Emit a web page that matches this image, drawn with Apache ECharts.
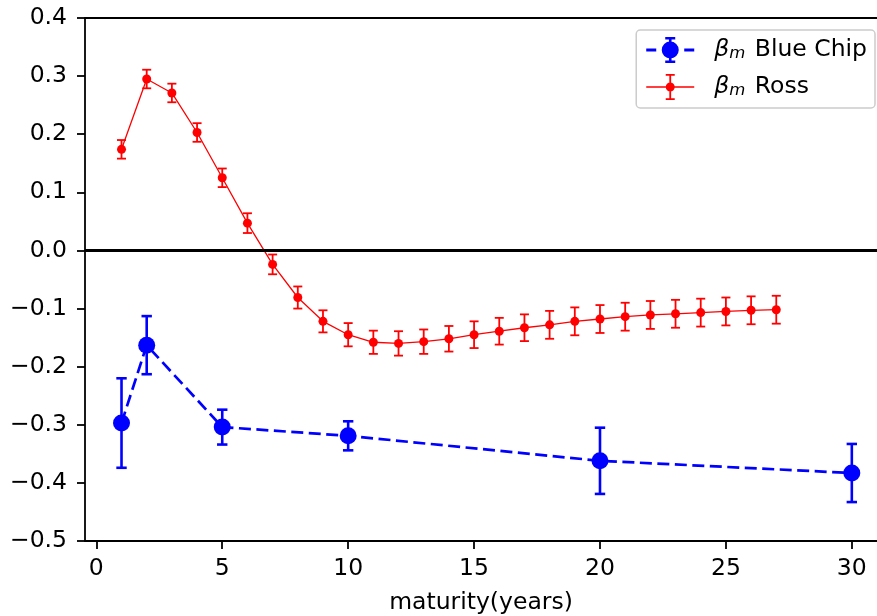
<!DOCTYPE html>
<html>
<head>
<meta charset="utf-8">
<script src="https://cdn.jsdelivr.net/npm/echarts@6/dist/echarts.min.js"></script>
<style>
  html, body { margin: 0; padding: 0; background: #fff; }
  #chart { width: 877px; height: 616px; }
</style>
</head>
<body>
<div id="chart"></div>
<script>
// Market beta by maturity: Blue Chip vs Ross estimates, with standard-error bars
const maturityBlue = [1, 2, 5, 10, 20, 30];
const betaBlue = [-0.297, -0.163, -0.304, -0.319, -0.362, -0.383];
const errBlue = [0.077, 0.050, 0.030, 0.025, 0.057, 0.050];

const maturityRoss = [1, 2, 3, 4, 5, 6, 7, 8, 9, 10, 11, 12, 13, 14, 15, 16, 17, 18, 19, 20, 21, 22, 23, 24, 25, 26, 27];
const betaRoss = [0.174, 0.295, 0.271, 0.203, 0.125, 0.047, -0.024, -0.081, -0.122, -0.145,
  -0.158, -0.160, -0.157, -0.152, -0.145, -0.139, -0.133, -0.128, -0.122, -0.118,
  -0.114, -0.111, -0.109, -0.107, -0.105, -0.103, -0.102];
const errRoss = [0.016, 0.016, 0.016, 0.016, 0.016, 0.017, 0.017, 0.019, 0.019, 0.020,
  0.020, 0.021, 0.021, 0.022, 0.023, 0.023, 0.023, 0.024, 0.024, 0.024,
  0.024, 0.024, 0.024, 0.024, 0.024, 0.024, 0.024];

const xTicks = [0, 5, 10, 15, 20, 25, 30];
const xLabel = 'maturity(years)';
const nameBlue = 'Blue Chip';
const nameRoss = 'Ross';

const FONT = 'DejaVu Sans';
const FS = 23.5;
const BLUE = '#0000ff';
const RED = '#ff0000';

function points(xs, ys) {
  return xs.map((x, i) => [x, ys[i]]);
}
function bars(xs, ys, es) {
  return xs.map((x, i) => [x, ys[i] - es[i], ys[i] + es[i]]);
}

// vertical error bar with caps, positioned through the axis scales
function errorBarRenderer(capHalf, lineWidth, color) {
  return function (params, api) {
    const x = api.value(0);
    const lo = api.coord([x, api.value(1)]);
    const hi = api.coord([x, api.value(2)]);
    const style = { stroke: color, lineWidth: lineWidth, fill: null };
    return {
      type: 'group',
      children: [
        { type: 'line', shape: { x1: lo[0], y1: lo[1], x2: hi[0], y2: hi[1] }, style: style },
        { type: 'line', shape: { x1: lo[0] - capHalf, y1: lo[1], x2: lo[0] + capHalf, y2: lo[1] }, style: style },
        { type: 'line', shape: { x1: hi[0] - capHalf, y1: hi[1], x2: hi[0] + capHalf, y2: hi[1] }, style: style }
      ]
    };
  };
}

const fmtY = v => {
  const r = Math.round(v * 10) / 10;
  if (Math.abs(r) < 1e-9) return '0.0';
  return (r < 0 ? '\u2212' : '') + Math.abs(r).toFixed(1);
};

// legend glyphs: dashed line + big marker + error bar, and solid line + small marker + error bar
const iconBlue = 'path://M0,11.6h10v2.8h-10z M38,11.6h10v2.8h-10z M15.5,13a8.5,8.5 0 1,1 17,0a8.5,8.5 0 1,1 -17,0z M22.7,0h2.6v26h-2.6z M19,0h10v2.6h-10z M19,23.4h10v2.6h-10z';
const iconRoss = 'path://M0,12.3h48v1.4h-48z M19.5,13a4.5,4.5 0 1,1 9,0a4.5,4.5 0 1,1 -9,0z M23.1,0h1.8v26h-1.8z M19.5,0h9v1.8h-9z M19.5,24.2h9v1.8h-9z';

const chart = echarts.init(document.getElementById('chart'), null, { renderer: 'canvas' });

const axisLineStyle = { color: '#000', width: 1.8 };

chart.setOption({
  animation: false,
  backgroundColor: '#fff',
  textStyle: { fontFamily: FONT },
  grid: { left: 85, right: 0, top: 18, bottom: 75, containLabel: false, outerBoundsMode: 'none' },
  legend: {
    orient: 'vertical',
    right: 2,
    top: 30,
    padding: [7, 8, 8, 10],
    itemGap: 11,
    itemWidth: 48,
    itemHeight: 26,
    selectedMode: false,
    borderColor: '#cccccc',
    borderWidth: 1.5,
    borderRadius: 4,
    backgroundColor: 'rgba(255,255,255,0.8)',
    data: [
      { name: nameBlue, icon: iconBlue },
      { name: nameRoss, icon: iconRoss }
    ],
    formatter: name => '{g|β}{s|m}{t| ' + name + '}',
    textStyle: {
      fontFamily: FONT,
      fontSize: FS,
      color: '#000',
      padding: [0, 0, 0, 15],
      rich: {
        g: { fontFamily: FONT, fontStyle: 'italic', fontSize: FS, color: '#000' },
        s: { fontFamily: FONT, fontStyle: 'italic', fontSize: 16.5, color: '#000', verticalAlign: 'bottom', padding: [0, 2, 0, 0] },
        t: { fontFamily: FONT, fontSize: FS, color: '#000' }
      }
    }
  },
  xAxis: [
    {
      type: 'value',
      min: -0.45,
      max: 31,
      name: xLabel,
      nameLocation: 'middle',
      nameGap: 50,
      nameTextStyle: { fontFamily: FONT, fontSize: FS, color: '#000' },
      axisLine: { show: true, onZero: false, lineStyle: axisLineStyle },
      axisTick: { show: true, inside: false, length: 8, lineStyle: axisLineStyle, customValues: xTicks },
      axisLabel: { show: true, margin: 16, fontFamily: FONT, fontSize: FS, color: '#000', customValues: xTicks },
      splitLine: { show: false }
    },
    {
      type: 'value',
      position: 'top',
      min: -0.45,
      max: 31,
      axisLine: { show: true, onZero: false, lineStyle: axisLineStyle },
      axisTick: { show: false },
      axisLabel: { show: false },
      splitLine: { show: false }
    }
  ],
  yAxis: {
    type: 'value',
    min: -0.5,
    max: 0.4,
    interval: 0.1,
    axisLine: { show: true, onZero: false, lineStyle: axisLineStyle },
    axisTick: { show: true, inside: false, length: 8, lineStyle: axisLineStyle },
    axisLabel: { show: true, margin: 18, fontFamily: FONT, fontSize: FS, color: '#000', formatter: fmtY },
    splitLine: { show: false }
  },
  series: [
    {
      name: nameBlue,
      type: 'line',
      data: points(maturityBlue, betaBlue),
      symbol: 'circle',
      symbolSize: 17,
      showSymbol: true,
      itemStyle: { color: BLUE },
      lineStyle: { color: BLUE, width: 2.7, type: [12, 5.5] },
      emphasis: { disabled: true },
      z: 3
    },
    {
      name: 'Blue Chip error',
      type: 'custom',
      data: bars(maturityBlue, betaBlue, errBlue),
      encode: { x: 0, y: [1, 2] },
      renderItem: errorBarRenderer(5.2, 2.6, BLUE),
      z: 2
    },
    {
      name: nameRoss,
      type: 'line',
      data: points(maturityRoss, betaRoss),
      symbol: 'circle',
      symbolSize: 9,
      showSymbol: true,
      itemStyle: { color: RED },
      lineStyle: { color: RED, width: 1.3 },
      emphasis: { disabled: true },
      z: 5,
      markLine: {
        silent: true,
        symbol: ['none', 'none'],
        label: { show: false },
        lineStyle: { color: '#000', width: 3, type: 'solid' },
        data: [{ yAxis: 0 }],
        z: 10
      }
    },
    {
      name: 'Ross error',
      type: 'custom',
      data: bars(maturityRoss, betaRoss, errRoss),
      encode: { x: 0, y: [1, 2] },
      renderItem: errorBarRenderer(4.5, 1.8, RED),
      z: 4
    }
  ]
});
</script>
</body>
</html>
